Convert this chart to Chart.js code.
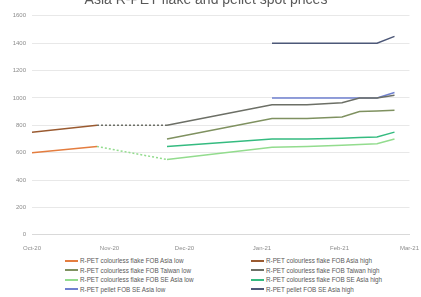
<!DOCTYPE html>
<html>
<head>
<meta charset="utf-8">
<script src="https://cdn.jsdelivr.net/npm/chart.js@4"></script>
<style>
  body { margin: 0; background: #fff; overflow: hidden; }
  #wrap { position: absolute; left: 0; top: -8px; width: 421px; height: 262px; }
  #legend {
    position: absolute; left: 65px; top: 256px; width: 356px;
    display: grid; grid-template-columns: 186px 170px; row-gap: 0;
    font-family: "Liberation Sans", Arial, sans-serif; font-size: 6.3px; color: #595959;
  }
  #legend div { height: 9.5px; display: flex; align-items: center; white-space: nowrap; }
  #legend span.ln { display: inline-block; width: 13px; height: 2px; margin-right: 2px; }
</style>
</head>
<body>
<div id="wrap"><canvas id="chart"></canvas></div>
<div id="legend"></div>
<script>
// observation dates
const dates = ['2020-10-01', '2020-10-27', '2020-11-24', '2021-01-05', '2021-01-19',
               '2021-02-02', '2021-02-09', '2021-02-16', '2021-02-23'];

const asiaLow      = [600, 645, null, null, null, null, null, null, null];
const asiaHigh     = [750, 800, null, null, null, null, null, null, null];
const taiwanLow    = [null, null, 700, 850, 850, 860, 900, 905, 910];
const taiwanHigh   = [null, 800, 800, 950, 950, 965, 1000, 1000, 1020];
const seAsiaLow    = [null, 645, 550, 640, 645, 655, 660, 665, 700];
const seAsiaHigh   = [null, null, 645, 700, 700, 705, 710, 715, 750];
const pelletLow    = [null, null, null, 1000, 1000, 1000, 1000, 1000, 1040];
const pelletHigh   = [null, null, null, 1400, 1400, 1400, 1400, 1400, 1450];

const monthStarts = ['2020-10-01', '2020-11-01', '2020-12-01', '2021-01-01', '2021-02-01', '2021-03-01'];
const xTickLabels = ['Oct-20', 'Nov-20', 'Dec-20', 'Jan-21', 'Feb-21', 'Mar-21'];
const yTicks = [0, 200, 400, 600, 800, 1000, 1200, 1400, 1600];

const day0 = Date.parse('2020-10-01');
function dayOf(s) { return (Date.parse(s) - day0) / 864e5; }

function toPoints(values) {
    return dates.map((d, i) => ({ x: dayOf(d), y: values[i] }));
}

const series = [
    { label: 'R-PET colourless flake FOB Asia low', data: asiaLow, color: '#e47d3f' },
    { label: 'R-PET colourless flake FOB Asia high', data: asiaHigh, color: '#9a5a30' },
    { label: 'R-PET colourless flake FOB Taiwan low', data: taiwanLow, color: '#7f9160' },
    { label: 'R-PET colourless flake FOB Taiwan high', data: taiwanHigh, color: '#6c6f66' },
    { label: 'R-PET colourless flake FOB SE Asia low', data: seAsiaLow, color: '#93dc8e' },
    { label: 'R-PET colourless flake FOB SE Asia high', data: seAsiaHigh, color: '#35bb80' },
    { label: 'R-PET pellet FOB SE Asia low', data: pelletLow, color: '#6f80cf' },
    { label: 'R-PET pellet FOB SE Asia high', data: pelletHigh, color: '#4d5878' }
];

const ctx = document.getElementById('chart').getContext('2d');
const chart = new Chart(ctx, {
    type: 'line',
    data: {
        datasets: series.map(s => ({
            label: s.label,
            data: toPoints(s.data),
            borderColor: s.color,
            backgroundColor: s.color,
            borderWidth: 1.5,
            pointRadius: 0,
            tension: 0,
            segment: {
                borderDash: c => c.p0DataIndex === 1 ? [2, 2] : undefined
            }
        }))
    },
    options: {
        responsive: true,
        maintainAspectRatio: false,
        animation: false,
        layout: { padding: { left: 2, right: 11, top: 0, bottom: 0 } },
        plugins: {
            legend: { display: false },
            tooltip: { enabled: false },
            title: {
                display: true,
                text: 'Asia R-PET flake and pellet spot prices',
                color: '#595959',
                font: { family: 'Liberation Sans', size: 14, weight: 'normal' },
                padding: { top: 0, bottom: 7 }
            }
        },
        scales: {
            x: {
                type: 'linear',
                min: dayOf(monthStarts[0]),
                max: dayOf(monthStarts[monthStarts.length - 1]),
                afterBuildTicks: scale => {
                    scale.ticks = monthStarts.map(d => ({ value: dayOf(d) }));
                },
                ticks: {
                    autoSkip: false,
                    maxRotation: 0,
                    color: '#8c8c8c',
                    font: { family: 'Liberation Sans', size: 6 },
                    padding: 2,
                    callback: value => {
                        const i = monthStarts.findIndex(d => dayOf(d) === value);
                        return i >= 0 ? xTickLabels[i] : '';
                    }
                },
                grid: { display: false },
                border: { color: '#d9d9d9' }
            },
            y: {
                min: 0,
                max: 1600,
                afterBuildTicks: scale => {
                    scale.ticks = yTicks.map(v => ({ value: v }));
                },
                afterFit: scale => { scale.width = 30; },
                ticks: {
                    color: '#8c8c8c',
                    font: { family: 'Liberation Sans', size: 6 },
                    padding: 6,
                    callback: value => String(value)
                },
                grid: { color: '#e8e8e8', drawTicks: false },
                border: { display: false }
            }
        }
    }
});

// two-column legend like the original
const legendEl = document.getElementById('legend');
series.forEach(s => {
    const item = document.createElement('div');
    const ln = document.createElement('span');
    ln.className = 'ln';
    ln.style.background = s.color;
    item.appendChild(ln);
    item.appendChild(document.createTextNode(s.label));
    legendEl.appendChild(item);
});
</script>
</body>
</html>
